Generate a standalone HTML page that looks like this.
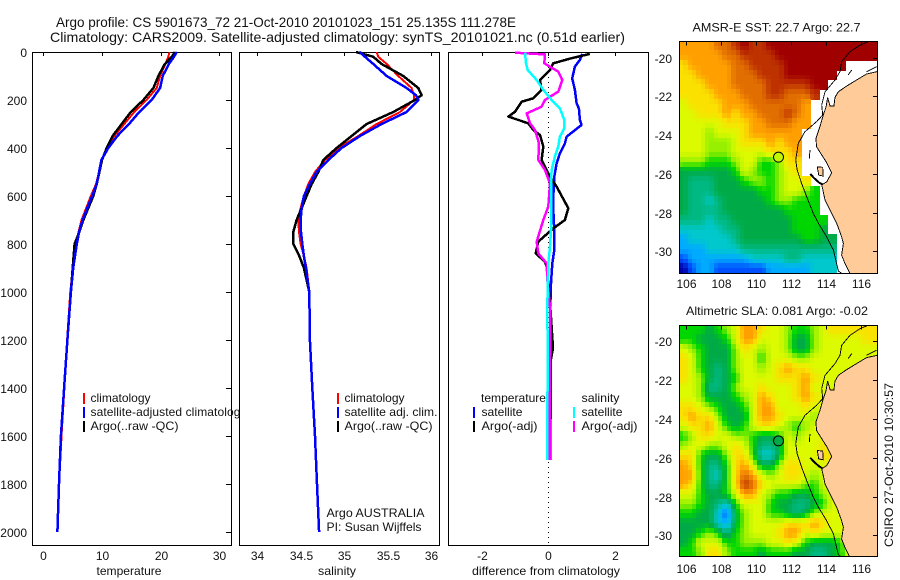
<!DOCTYPE html>
<html>
<head>
<meta charset="utf-8">
<title>Argo profile</title>
<style>
html,body{margin:0;padding:0;background:#fff;width:900px;height:580px;overflow:hidden}
svg{display:block;font-family:"Liberation Sans",sans-serif;font-size:12px;fill:#000}
text{fill:#111}
</style>
</head>
<body>
<svg id="chart" xmlns="http://www.w3.org/2000/svg" width="900" height="580" viewBox="0 0 900 580">
  <defs>
    <clipPath id="clip-sst"><rect x="679.5" y="41.5" width="198" height="232"/></clipPath>
    <clipPath id="clip-sla"><rect x="679.5" y="325.5" width="198" height="231"/></clipPath>
  </defs>
  <text x="56" y="27" font-size="14" textLength="460" lengthAdjust="spacingAndGlyphs">Argo profile: CS 5901673_72 21-Oct-2010 20101023_151 25.135S 111.278E</text>
  <text x="50" y="42" font-size="14" textLength="575" lengthAdjust="spacingAndGlyphs">Climatology: CARS2009. Satellite-adjusted climatology: synTS_20101021.nc (0.51d earlier)</text>

  <g id="panel-temp">
    <rect x="32.5" y="52.5" width="199" height="493" fill="#fff" stroke="#000" shape-rendering="crispEdges"/>
    <g id="temp-ticks"></g>
    <g id="temp-lines"></g>
    <text x="129" y="575" text-anchor="middle" textLength="65" lengthAdjust="spacingAndGlyphs">temperature</text>
    <g>
      <rect x="83" y="393" width="2" height="11" fill="#f00"/>
      <text x="90.5" y="402">climatology</text>
      <rect x="83" y="407" width="2" height="11" fill="#00f"/>
      <text x="90.5" y="416" letter-spacing="0.09">satellite-adjusted climatology</text>
      <rect x="83" y="421" width="2" height="11" fill="#000"/>
      <text x="90.5" y="430" textLength="88" lengthAdjust="spacingAndGlyphs">Argo(..raw -QC)</text>
    </g>
  </g>

  <g id="panel-sal">
    <rect x="239.5" y="52.5" width="200" height="493" fill="#fff" stroke="#000" shape-rendering="crispEdges"/>
    <g id="sal-ticks"></g>
    <g id="sal-lines"></g>
    <text x="337" y="575" text-anchor="middle" textLength="38" lengthAdjust="spacingAndGlyphs">salinity</text>
    <g>
      <rect x="337" y="393" width="2" height="11" fill="#f00"/>
      <text x="344.5" y="402">climatology</text>
      <rect x="337" y="407" width="2" height="11" fill="#00f"/>
      <text x="344.5" y="416" textLength="93" lengthAdjust="spacingAndGlyphs">satellite adj. clim.</text>
      <rect x="337" y="421" width="2" height="11" fill="#000"/>
      <text x="344.5" y="430" textLength="88" lengthAdjust="spacingAndGlyphs">Argo(..raw -QC)</text>
    </g>
    <text x="326.5" y="517" textLength="98" lengthAdjust="spacingAndGlyphs">Argo AUSTRALIA</text>
    <text x="326.5" y="531" textLength="95" lengthAdjust="spacingAndGlyphs">PI: Susan Wijffels</text>
  </g>

  <g id="panel-diff">
    <rect x="448.5" y="52.5" width="200" height="493" fill="#fff" stroke="#000" shape-rendering="crispEdges"/>
    <g id="diff-ticks"></g>
    <g id="diff-lines"></g>
    <text x="546" y="575" text-anchor="middle" textLength="148" lengthAdjust="spacingAndGlyphs">difference from climatology</text>
    <g>
      <text x="481" y="402" textLength="65" lengthAdjust="spacingAndGlyphs">temperature</text>
      <rect x="473" y="407" width="2" height="11" fill="#00f"/>
      <text x="481.5" y="416" textLength="41" lengthAdjust="spacingAndGlyphs">satellite</text>
      <rect x="473" y="421" width="2" height="11" fill="#000"/>
      <text x="481.5" y="430" textLength="56" lengthAdjust="spacingAndGlyphs">Argo(-adj)</text>
      <text x="581.5" y="402" textLength="38" lengthAdjust="spacingAndGlyphs">salinity</text>
      <rect x="573" y="407" width="2" height="11" fill="#0ff"/>
      <text x="581.5" y="416" textLength="41" lengthAdjust="spacingAndGlyphs">satellite</text>
      <rect x="573" y="421" width="2" height="11" fill="#f0f"/>
      <text x="581.5" y="430" textLength="56" lengthAdjust="spacingAndGlyphs">Argo(-adj)</text>
    </g>
  </g>

  <text x="692.5" y="31.5" textLength="168" lengthAdjust="spacingAndGlyphs">AMSR-E SST: 22.7  Argo: 22.7</text>
  <g id="map-sst"></g>
  <text x="686" y="315" textLength="182" lengthAdjust="spacingAndGlyphs">Altimetric SLA: 0.081  Argo: -0.02</text>
  <g id="map-sla"></g>
  <text transform="translate(893,547) rotate(-90)" textLength="164" lengthAdjust="spacingAndGlyphs">CSIRO 27-Oct-2010 10:30:57</text>
</svg>

<script>
// ---- profile data ----
const depthTicks = [0,200,400,600,800,1000,1200,1400,1600,1800,2000];
const tempTicks = [0,10,20,30];
const salTicks = [34,34.5,35,35.5,36];
const salTickLabels = ['34','34.5','35','35.5','36'];
const diffTicks = [-2,0,2];

const tempDepth = [0,20,50,100,150,200,250,300,350,400,450,500,550,600,650,700,750,800,900,1000,1200,1400,1600,1800,2000];
const tempClim = [21.5,21.3,20.8,19.89,19.32,17.6,15.5,13.8,12.1,10.9,10,9.5,9,8.1,7.3,6.5,6,5.6,5,4.6,4.05,3.6,3.1,2.7,2.4];
const tempSat = [22.73,22.27,21.4,20.34,19.89,18.47,16.36,14.6,12.6,11.08,9.9,9.5,9.1,8.35,7.5,6.7,6.1,5.7,5.1,4.7,4.1,3.55,3,2.67,2.4];
const tempArgo = [22.44,21.9,20.7,19.6,18.75,17.05,14.9,13.35,11.8,10.8,10,9.55,9.09,8.52,7.67,6.82,6.14,5.34,5,4.7,4.1,3.55,3,2.67,2.4];

const salDepth = [0,20,50,100,150,180,200,250,300,350,400,450,500,550,600,650,700,750,800,850,900,1000,1200,1400,1600,1800,2000];
const salClim = [35.372,35.391,35.487,35.621,35.774,35.801,35.801,35.64,35.372,35.161,34.931,34.778,34.663,34.586,34.536,34.498,34.471,34.479,34.498,34.536,34.567,34.598,34.605,34.632,34.663,34.686,34.71];
const salSat = [35.18,35.238,35.333,35.487,35.716,35.824,35.851,35.716,35.429,35.18,34.969,34.816,34.682,34.605,34.536,34.51,34.498,34.502,34.517,34.536,34.559,34.598,34.605,34.632,34.663,34.686,34.71];
const salArgo = [35.134,35.333,35.429,35.678,35.851,35.889,35.812,35.563,35.257,35.084,34.912,34.759,34.701,34.625,34.567,34.51,34.452,34.414,34.414,34.483,34.536,34.598,34.605,34.632,34.663,34.686,34.71];

const diffTempSatDepth = [8,33,61,110,158,214,235,283,304,353,381,422,464,519,603,658,742,825,881,964,1061,1240,1500,1700];
const diffTempSat = [1.02,.95,.8,.72,.8,.85,.92,.95,1,.55,.5,.35,.25,.18,.15,.15,.18,.18,.12,.08,.06,.08,.07,.05];
const diffTempArgoDepth = [8,26,47,75,117,158,193,207,249,269,297,325,346,394,450,519,561,651,700,735,790,839,874,894,964,1061,1235,1300,1700];
const diffTempArgo = [1.25,.7,.15,.05,-.25,-.2,-.45,-.8,-1,-1.2,-.6,-.45,-.25,-.15,-.2,.05,.25,.6,.5,.15,-.3,-.38,-.1,-.05,0,.06,.14,.05,.05];
const diffSalSatDepth = [3,47,75,117,158,200,235,283,318,353,394,436,492,561,644,742,811,881,1061,1200,1300,1700];
const diffSalSat = [-.7,-.67,-.62,-.35,-.15,.1,.35,.48,.48,.35,.3,.2,.1,.08,.08,.08,.05,0,-.03,-.02,-.02,-.03];
const diffSalArgoDepth = [3,10,47,82,117,165,200,228,256,297,325,381,450,492,547,644,700,790,839,881,964,1061,1240,1300,1700];
const diffSalArgo = [-1,-.1,-.12,.3,.42,.3,-.1,-.2,-.65,-.55,-.4,-.28,-.3,-.1,.05,0,-.15,-.35,-.3,-.05,-.02,.05,.06,.04,.04];
const zeroLineDepth = [0,2054];
const zeroLineValue = [0,0];

// ---- map data (colour level per 0.5 degree cell, west to east, north to south) ----
const mapTicksLon = [106,108,110,112,114,116];
const mapTicksLat = [20,22,24,26,28,30];
const cellStartLon = 105.6;
const cellStartLat = 19.15;
const cellDegrees = 0.5;
const sstRows = [
[10,10,10,10,11,11,12,13,12,12,13,13,13,13,13,13,13,13,13,13,13,13,13],
[10,10,10,10,10,11,11,12,12,12,12,13,13,13,13,13,13,13,13,13,13,13,13],
[9,10,10,10,10,10,11,11,12,12,12,12,13,13,13,13,13,13,13],
[9,9,10,10,10,10,11,11,11,12,12,12,13,13,13,13,13,13],
[9,9,9,10,10,10,11,11,11,11,12,12,12,12,12,13,13],
[9,9,9,9,10,10,10,11,11,11,12,12,11,11,11,12],
[8,9,9,9,9,10,10,10,11,11,11,11,11,11,10],
[8,8,9,9,9,10,9,10,10,11,11,11,12,11,10],
[8,8,8,8,8,9,9,9,10,10,11,11,11,10,10],
[8,8,8,7,8,8,8,9,10,10,10,10,10,10],
[8,8,8,7,7,7,8,9,9,9,10,9,10,10],
[8,8,8,7,7,7,8,8,8,8,9,9,9,10],
[7,7,7,6,6,6,7,8,8,6,6,7,9,9],
[5,5,5,5,5,5,6,8,7,6,6,7,8,9],
[5,4,4,4,5,5,5,6,7,7,6,7,8,8,9],
[5,4,4,4,5,5,5,5,5,6,6,7,8,8,7,6],
[5,4,4,3,4,5,5,5,5,5,6,7,7,6,6,6],
[5,4,4,4,4,5,5,5,5,5,5,5,6,6,6,6],
[4,4,4,3,4,4,5,5,5,5,5,5,5,6,6,6,6],
[3,3,3,3,3,4,4,5,5,5,5,5,5,6,6,6,5],
[2,3,3,3,3,3,4,5,5,5,5,5,5,5,6,6,5,5],
[2,2,2,3,3,3,3,4,4,4,4,4,4,4,4,4,4,4],
[1,2,2,2,2,2,2,2,3,3,3,3,4,4,3,3,3,3],
[0,1,2,2,1,1,1,1,1,1,2,2,2,2,2,3,3,3]
];
const slaRows = [
[6,6,6,5,6,7,8,10,10,9,8,8,7,6,6,7,8,9,9,9,9,9,9],
[6,6,5,5,5,6,8,10,10,8,8,8,7,5,5,7,8,8,8,8,8,9,9],
[8,7,6,5,5,5,7,9,8,7,8,8,7,5,5,7,8,8,8,8,8,8,8],
[9,8,6,5,5,5,7,8,8,6,8,8,8,7,7,8,8,8,8,8,8,8,8],
[9,8,6,5,4,5,7,8,8,7,8,9,10,9,9,8,8,8,8,8,8,8,8],
[9,8,7,5,4,5,6,8,8,8,8,9,9,9,10,9,8,8,8,8,8,8,8],
[8,8,7,4,4,5,7,8,8,9,8,8,8,9,10,8,8,8,8,8,8,8,8],
[8,8,7,5,5,5,6,7,8,10,9,8,8,9,10,9,8,8,8,8,8,8,8],
[9,9,8,7,6,5,5,6,8,10,10,8,8,8,9,8,8,8,8,8,8,8,8],
[9,10,9,9,7,5,5,5,8,10,10,9,8,8,8,7,8,8,8,8,8,8,8],
[8,9,9,10,8,6,5,6,8,9,9,8,7,6,7,8,8,8,8,8,8,8,8],
[6,7,9,9,8,8,7,7,6,5,5,6,8,7,8,8,8,8,8,8,8,8,8],
[7,8,8,7,7,8,9,8,6,4,4,5,8,8,8,8,9,8,8,8,8,8,8],
[9,9,6,5,5,7,9,9,6,3,3,5,8,8,8,8,9,9,8,8,8,8,8],
[10,9,6,4,4,6,9,10,8,5,5,7,9,9,8,8,8,9,8,8,8,8,8],
[10,10,6,4,3,6,9,11,10,8,7,8,9,9,8,7,8,8,8,8,8,8,8],
[10,9,6,4,4,6,9,12,11,9,8,8,8,8,7,6,8,8,8,8,8,8,8],
[8,8,6,5,5,6,8,10,10,8,7,6,6,5,5,6,7,8,8,8,8,8,8],
[7,7,6,5,4,3,6,8,8,8,6,5,5,4,4,5,6,8,8,8,8,8,8],
[6,6,5,5,3,1,5,7,8,8,6,6,5,4,5,7,8,8,8,8,8,8,8],
[5,5,5,5,3,2,5,7,8,8,8,8,9,9,9,10,9,8,8,8,8,8,8],
[5,5,6,7,6,4,6,7,8,8,8,9,10,10,8,9,8,8,8,8,8,8,8],
[5,6,8,8,8,6,6,7,7,7,8,8,9,8,6,5,5,5,6,8,8,8,8],
[6,6,7,9,9,7,6,6,6,5,6,6,6,5,5,4,4,5,6,8,8,8,8]
];
const levelColors = [[0,0,170],[0,80,255],[0,170,255],[0,200,205],[0,185,130],[0,170,70],[0,215,0],[150,240,0],[220,250,0],[250,225,0],[255,160,0],[225,110,0],[190,50,0],[160,0,0]];

// ---- geography in degrees ----
const landLon = [116.93,116.32,115.75,115.18,114.7,114.51,114.45,114.23,114.09,114,113.84,113.65,113.42,113.46,113.75,114.04,114.32,114.04,113.75,113.82,113.94,114.23,114.61,114.89,114.99,114.89,115.08,115.37,116.93];
const landLat = [20.72,20.84,21.15,21.46,21.76,22.05,22.5,22.5,22.05,22.53,22.96,23.56,24.17,24.6,25.02,25.43,25.94,26.4,26.57,26.83,27.35,27.87,28.55,29.24,29.59,30.19,30.62,31.14,31.14];
const stripLon = [113.5,113.81,113.84,113.58];
const stripLat = [25.63,25.66,26.11,26.06];
const isobathLon = [116.42,115.94,115.37,114.89,114.8,114.51,113.94,113.75,113.81,113.46,112.79,112.41,112.26,112.35,112.6,112.89,113.27,113.56,114.03,114.42,114.7,114.89];
const isobathLat = [19.17,19.35,19.69,20.21,20.72,21.15,21.76,22.44,22.96,23.3,23.82,24.42,25.28,25.8,26.49,27.18,28.04,28.55,29.24,29.93,31,31.14];
const islandALon = [113.1,113.3,113.6,113.8];
const islandALat = [26.0,26.2,26.45,26.55];
const islandBLon = [113.08,113.04];
const islandBLat = [24.77,25.2];
const islandCLon = [115.27,115.47];
const islandCLat = [20.89,20.64];
const islandDLon = [116.32,116.9];
const islandDLat = [20.72,20.46];
const floatLon = 111.278;
const floatLat = 25.135;
const floatLevelSst = 7.6;
const floatLevelSla = 5;

// ---- scales ----
const NS = 'http://www.w3.org/2000/svg';
const yDepth = d => 52 + d * 0.24;
const xTemp = v => 43.3 + v * 5.87;
const xSal = v => 257.3 + (v - 34) * 87;
const xDiff = v => 548.3 + v * 33.25;
const xLon = lon => 686.3 + (lon - 106) * 17.47;
const ySstLat = lat => 57.7 + (lat - 20) * 19.37;
const ySlaLat = lat => 341.3 + (lat - 20) * 19.4;

function make(tag, parent, attrs) {
  const el = document.createElementNS(NS, tag);
  for (const k in attrs) el.setAttribute(k, attrs[k]);
  parent.appendChild(el);
  return el;
}
function profile(parent, depths, values, xScale, color, width) {
  const pts = depths.map((d, i) => xScale(values[i]).toFixed(1) + ',' + yDepth(d).toFixed(1)).join(' ');
  return make('polyline', parent, {points: pts, fill: 'none', stroke: color, 'stroke-width': width, 'stroke-linejoin': 'round', 'shape-rendering': 'crispEdges'});
}
function tick(parent, x1, y1, x2, y2) {
  return make('line', parent, {x1, y1, x2, y2, stroke: '#000', 'stroke-width': 1, 'shape-rendering': 'crispEdges'});
}
function label(parent, x, y, anchor, str) {
  const t = make('text', parent, {x, y, 'text-anchor': anchor});
  t.textContent = str;
  return t;
}
function geoPoints(lons, lats, yScale) {
  return lons.map((lon, i) => xLon(lon).toFixed(1) + ',' + yScale(lats[i]).toFixed(1)).join(' ');
}
function levelColor(lev) {
  const v = Math.max(0, Math.min(levelColors.length - 1, lev));
  const a = Math.floor(v);
  const b = Math.min(levelColors.length - 1, a + 1);
  const f = v - a;
  const c = levelColors[a].map((p, k) => Math.round(p + (levelColors[b][k] - p) * f));
  return 'rgb(' + c.join(',') + ')';
}
// Shade a cell's quarter at fractional position (s,t) by blending with neighbouring cells.
function shadeLevel(rows, j, i, s, t) {
  const own = rows[j][i];
  const di = s < 0.5 ? -1 : 1;
  const dj = t < 0.5 ? -1 : 1;
  const get = (jj, ii) => {
    const r = rows[jj];
    return r && r[ii] !== undefined ? r[ii] : own;
  };
  const wx = Math.abs(s - 0.5);
  const wy = Math.abs(t - 0.5);
  const top = own * (1 - wx) + get(j, i + di) * wx;
  const bot = get(j + dj, i) * (1 - wx) + get(j + dj, i + di) * wx;
  return top * (1 - wy) + bot * wy;
}

// ---- temperature panel ----
const tempTickLayer = document.getElementById('temp-ticks');
depthTicks.forEach(d => {
  const y = Math.round(yDepth(d)) + 0.5;
  const m = tick(tempTickLayer, 226, y, 231, y);
  
  
  const t = label(tempTickLayer, 27, y + 4.5, 'end', String(d));
  
  
});
tempTicks.forEach(v => {
  const x = Math.round(xTemp(v)) + 0.5;
  const m = tick(tempTickLayer, x, 53, x, 56);
  
  
  const t = label(tempTickLayer, x, 560, 'middle', String(v));
  
  
});
const tempLayer = document.getElementById('temp-lines');
const lineTC = profile(tempLayer, tempDepth, tempClim, xTemp, '#f00', 2);


const lineTA = profile(tempLayer, tempDepth, tempArgo, xTemp, '#000', 2.5);


const lineTS = profile(tempLayer, tempDepth, tempSat, xTemp, '#00f', 2.5);



// ---- salinity panel ----
const salTickLayer = document.getElementById('sal-ticks');
salTicks.forEach((v, i) => {
  const x = Math.round(xSal(v)) + 0.5;
  const m = tick(salTickLayer, x, 53, x, 56);
  
  
  const t = label(salTickLayer, x, 560, 'middle', salTickLabels[i]);
  
  
});
const salLayer = document.getElementById('sal-lines');
const lineSC = profile(salLayer, salDepth, salClim, xSal, '#f00', 2);


const lineSA = profile(salLayer, salDepth, salArgo, xSal, '#000', 2.5);


const lineSS = profile(salLayer, salDepth, salSat, xSal, '#00f', 2.5);



// ---- difference panel ----
const diffTickLayer = document.getElementById('diff-ticks');
diffTicks.forEach(v => {
  const x = Math.round(xDiff(v)) + 0.5;
  const m = tick(diffTickLayer, x, 53, x, 56);
  
  
  const t = label(diffTickLayer, x, 560, 'middle', String(v));
  
  
});
const diffLayer = document.getElementById('diff-lines');
const lineZero = profile(diffLayer, zeroLineDepth, zeroLineValue, xDiff, '#000', 1);
lineZero.setAttribute('stroke-dasharray', '1 4');


const lineDTS = profile(diffLayer, diffTempSatDepth, diffTempSat, xDiff, '#00f', 2.5);


const lineDTA = profile(diffLayer, diffTempArgoDepth, diffTempArgo, xDiff, '#000', 2.5);


const lineDSA = profile(diffLayer, diffSalArgoDepth, diffSalArgo, xDiff, '#f0f', 2.5);


const lineDSS = profile(diffLayer, diffSalSatDepth, diffSalSat, xDiff, '#0ff', 2.5);



// ---- maps ----
function drawMap(group, rows, yScale, clipId, top, bottom, xLabelY, floatLevel) {
  const clip = make('g', group, {'clip-path': 'url(#' + clipId + ')'});
  
  
  const quarter = [0.25, 0.75];
  rows.forEach((row, j) => {
    row.forEach((lev, i) => {
      quarter.forEach(t => {
        quarter.forEach(s => {
          const lon0 = cellStartLon + (i + s - 0.25) * cellDegrees;
          const lat0 = cellStartLat + (j + t - 0.25) * cellDegrees;
          const x = Math.floor(xLon(lon0));
          const y = Math.floor(yScale(lat0));
          const c = make('rect', clip, {
            x, y,
            width: Math.ceil(xLon(lon0 + cellDegrees / 2)) - x,
            height: Math.ceil(yScale(lat0 + cellDegrees / 2)) - y,
            fill: levelColor(shadeLevel(rows, j, i, s, t)),
            'shape-rendering': 'crispEdges'
          });
          
          
        });
      });
    });
  });
  const land = make('polygon', clip, {points: geoPoints(landLon, landLat, yScale), fill: '#ffcc99', stroke: '#000', 'stroke-width': 0.9, 'shape-rendering': 'crispEdges'});
  
  
  const strip = make('polygon', clip, {points: geoPoints(stripLon, stripLat, yScale), fill: '#ffcc99', stroke: '#000', 'stroke-width': 0.9, 'shape-rendering': 'crispEdges'});
  
  
  const iso = make('polyline', clip, {points: geoPoints(isobathLon, isobathLat, yScale), fill: 'none', stroke: '#000', 'stroke-width': 0.9, 'shape-rendering': 'crispEdges'});
  
  
  const islA = make('polyline', clip, {points: geoPoints(islandALon, islandALat, yScale), fill: 'none', stroke: '#000', 'stroke-width': 2, 'shape-rendering': 'crispEdges'});
  
  
  const islB = make('polyline', clip, {points: geoPoints(islandBLon, islandBLat, yScale), fill: 'none', stroke: '#000', 'stroke-width': 0.9, 'shape-rendering': 'crispEdges'});
  
  
  const islC = make('polyline', clip, {points: geoPoints(islandCLon, islandCLat, yScale), fill: 'none', stroke: '#000', 'stroke-width': 0.9, 'shape-rendering': 'crispEdges'});
  
  
  const islD = make('polyline', clip, {points: geoPoints(islandDLon, islandDLat, yScale), fill: 'none', stroke: '#000', 'stroke-width': 0.9, 'shape-rendering': 'crispEdges'});
  
  
  const marker = make('circle', group, {cx: xLon(floatLon), cy: yScale(floatLat), r: 5, fill: levelColor(floatLevel), stroke: '#000', 'stroke-width': 1});
  
  
  const frame = make('rect', group, {x: 679.5, y: top, width: 198, height: bottom - top, fill: 'none', stroke: '#000', 'shape-rendering': 'crispEdges'});
  
  
  mapTicksLon.forEach(lon => {
    const x = Math.round(xLon(lon)) + 0.5;
    const m = tick(group, x, top, x, top + 4);
    
    
    const t = label(group, x, xLabelY, 'middle', String(lon));
    
    
  });
  mapTicksLat.forEach(lat => {
    const y = Math.round(yScale(lat)) + 0.5;
    const m = tick(group, 873, y, 877.5, y);
    
    
    const t = label(group, 672, y + 4.5, 'end', '-' + lat);
    
    
  });
}
drawMap(document.getElementById('map-sst'), sstRows, ySstLat, 'clip-sst', 41.5, 273.5, 288, floatLevelSst);
drawMap(document.getElementById('map-sla'), slaRows, ySlaLat, 'clip-sla', 325.5, 556.5, 573, floatLevelSla);
</script>
</body>
</html>
